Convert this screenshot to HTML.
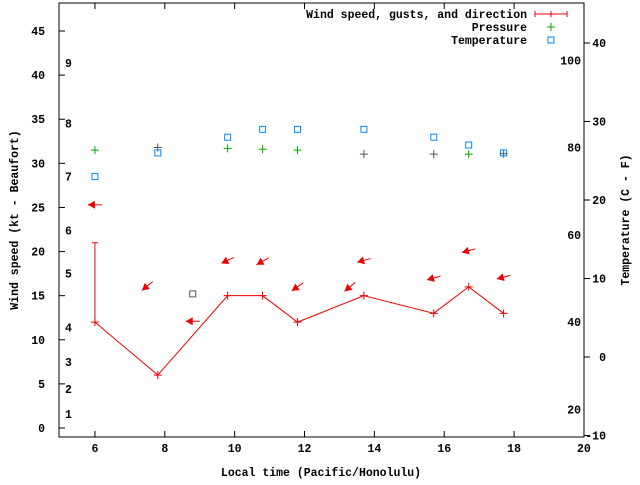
<!DOCTYPE html>
<html><head><meta charset="utf-8"><style>
body{margin:0;background:#fff}
svg text{font-family:"Liberation Mono",monospace;font-weight:bold;font-size:11.5px;fill:#000}
</style></head><body>
<svg id="c" width="640" height="480" xmlns="http://www.w3.org/2000/svg"></svg>
<script>
const times=[6.0,7.8,9.8,10.8,11.8,13.7,15.7,16.7,17.7];
const windSpeed=[12,6,15,15,12,15,13,16,13];
const gustTimes=[6.0];
const gustValues=[21];
const pressure=[31.5,31.8,31.7,31.6,31.5,31.05,31.05,31.05,31.1];
const pressureGray=[false,true,false,false,false,true,true,false,true];
const tempC=[23,26,28,29,29,29,28,27,26];
const extraTimes=[8.8];
const extraValues=[15.2];
const arrowTimes=[6.0,7.5,9.8,10.8,11.8,13.3,13.7,8.8,15.7,16.7,17.7];
const arrowValues=[25.3,16.1,19,18.9,16,16,19,12.1,17,20.1,17.1];
const arrowAngles=[180,220,205,210,215,220,195,180,195,195,195];
const xTicks=[6,8,10,12,14,16,18,20];
const yTicks=[0,5,10,15,20,25,30,35,40,45];
const tempTicks=[-10,0,10,20,30,40];
const fTicks=[20,40,60,80,100];
const beaufort=[1,2,3,4,5,6,7,8,9];
const beaufortKt=[1.6,4.4,7.5,11.4,17.5,22.4,28.5,34.5,41.4];

const L=59,R=584,T=3,B=437;
const X=v=>60+(v-5)*34.93;
const Y=v=>428-v*8.822;
const YT=c=>357-c*7.85;
const svg=document.getElementById('c');
const NS='http://www.w3.org/2000/svg';
function mk(tag,a,name,txt){const e=document.createElementNS(NS,tag);for(const k in a)e.setAttribute(k,a[k]);


if(txt!==undefined)e.textContent=txt;svg.appendChild(e);return e;}
mk('rect',{x:L,y:T,width:R-L,height:B-T,fill:'none',stroke:'#000','stroke-width':1},'plot-frame');
xTicks.forEach(v=>{const x=X(v);mk('path',{d:`M${x} ${B}v-6M${x} ${T}v6`,stroke:'#000'},'x-tick');
mk('text',{x:x,y:B+15,'text-anchor':'middle'},'x-tick-label',v);});
yTicks.forEach(v=>{const y=Y(v);mk('path',{d:`M${L} ${y}h6`,stroke:'#000'},'y-tick');
mk('text',{x:L-14,y:y+4,'text-anchor':'end'},'y-tick-label',v);});
tempTicks.forEach(v=>{const y=YT(v);mk('path',{d:`M${R} ${y}h6`,stroke:'#000'},'temp-tick');
mk('text',{x:R+22,y:y+4,'text-anchor':'end'},'temp-tick-label',v);});
fTicks.forEach(v=>{const y=YT((v-32)*5/9);mk('text',{x:R-3,y:y+4,'text-anchor':'end'},'fahrenheit-label',v);});
beaufort.forEach((b,i)=>mk('text',{x:65,y:Y(beaufortKt[i])+4},'beaufort-label',b));
mk('text',{x:321,y:476,'text-anchor':'middle'},'x-axis-title','Local time (Pacific/Honolulu)');
mk('text',{x:18,y:220,'text-anchor':'middle',transform:'rotate(-90 18 220)'},'y-axis-title','Wind speed (kt - Beaufort)');
mk('text',{x:629,y:220,'text-anchor':'middle',transform:'rotate(-90 629 220)'},'y2-axis-title','Temperature (C - F)');
mk('text',{x:527,y:18,'text-anchor':'end'},'legend-wind','Wind speed, gusts, and direction');
mk('path',{d:'M535 14h32M535 11v6M567 11v6M551 11v6',stroke:'#e00'},'legend-wind-symbol');
mk('text',{x:527,y:31,'text-anchor':'end'},'legend-pressure','Pressure');
mk('path',{d:'M547 27h8M551 23v8',stroke:'#0a0'},'legend-pressure-symbol');
mk('text',{x:527,y:44,'text-anchor':'end'},'legend-temperature','Temperature');
mk('rect',{x:548,y:37,width:6,height:6,fill:'none',stroke:'#08f'},'legend-temperature-symbol');
mk('polyline',{points:times.map((t,i)=>X(t)+','+Y(windSpeed[i])).join(' '),fill:'none',stroke:'#e00'},'wind-line');
gustTimes.forEach((t,i)=>{const x=X(t);mk('path',{d:`M${x} ${Y(windSpeed[0])}V${Y(gustValues[i])}M${x-3} ${Y(gustValues[i])}h6`,stroke:'#e00'},'gust-bar');});
times.forEach((t,i)=>{const x=X(t),y=Y(windSpeed[i]);mk('path',{d:`M${x-4} ${y}h8M${x} ${y-4}v8`,stroke:'#e00'},'wind-point');});
pressure.forEach((p,i)=>{const x=X(times[i]),y=Y(p);mk('path',{d:`M${x-4} ${y}h8M${x} ${y-4}v8`,stroke:pressureGray[i]?'#555':'#0a0'},'pressure-point');});
tempC.forEach((c,i)=>{const x=X(times[i]),y=YT(c);mk('rect',{x:x-3,y:y-3,width:6,height:6,fill:'none',stroke:'#08f'},'temperature-point');});
extraTimes.forEach((t,i)=>mk('rect',{x:X(t)-3,y:Y(extraValues[i])-3,width:6,height:6,fill:'none',stroke:'#555'},'gray-point'));
arrowTimes.forEach((t,i)=>{const cx=X(t),cy=Y(arrowValues[i]),a=arrowAngles[i]*Math.PI/180;
const dx=Math.cos(a),dy=-Math.sin(a);const hx=cx+dx*7,hy=cy+dy*7,tx=cx-dx*7,ty=cy-dy*7;
const px=-dy,py=dx;
mk('path',{d:`M${tx} ${ty}L${hx} ${hy}`,stroke:'#e00'},'wind-direction-arrow');
mk('polygon',{points:`${hx},${hy} ${hx-dx*7+px*4},${hy-dy*7+py*4} ${hx-dx*7-px*4},${hy-dy*7-py*4}`,fill:'#e00'},'wind-direction-arrowhead');});
</script>
</body></html>
